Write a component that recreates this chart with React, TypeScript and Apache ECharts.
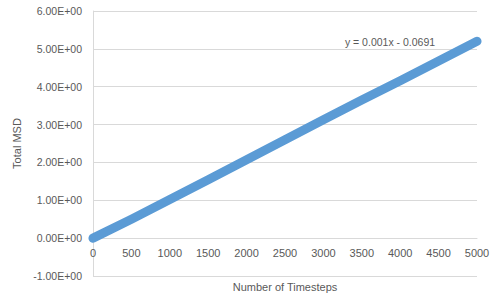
import React, { useEffect, useRef } from "react";
import * as echarts from "echarts";

const timesteps = [0, 500, 1000, 1500, 2000, 2500, 3000, 3500, 4000, 4500, 5000];
const totalMSD = [0, 0.5, 1.02, 1.54, 2.07, 2.6, 3.13, 3.65, 4.16, 4.68, 5.2];
const trendLabel = "y = 0.001x - 0.0691";
const xTitle = "Number of Timesteps";
const yTitle = "Total MSD";

const FONT = "Liberation Sans";
const TXT = "#595959";

function sci(v: number): string {
  const s = v.toExponential(2).toUpperCase(); // e.g. 6.00E+0
  const m = s.match(/^(-?[\d.]+)E([+-])(\d+)$/);
  if (!m) return s;
  return `${m[1]}E${m[2]}${m[3].padStart(2, "0")}`;
}

export default function App() {
  const ref = useRef<HTMLDivElement>(null);
  useEffect(() => {
    if (!ref.current) return;
    const chart = echarts.init(ref.current, undefined, { renderer: "svg" });
    const plotH = 302 - 11 - 26;
    const zeroOffset = -plotH / 7; // shift x axis up to y = 0 line
    chart.setOption({
      animation: false,
      backgroundColor: "#ffffff",
      grid: { left: 93, right: 19, top: 11, bottom: 26, containLabel: false, outerBoundsMode: "none" },
      xAxis: {
        type: "value",
        min: 0,
        max: 5000,
        interval: 500,
        offset: zeroOffset,
        name: xTitle,
        nameLocation: "middle",
        nameGap: 43,
        nameTextStyle: { color: TXT, fontFamily: FONT, fontSize: 11 },
        axisLine: { show: true, onZero: false, lineStyle: { color: "#d9d9d9" } },
        axisTick: { show: false },
        splitLine: { show: false },
        axisLabel: { color: TXT, fontFamily: FONT, fontSize: 11, margin: 9, formatter: (v: number) => String(v) },
      },
      yAxis: {
        type: "value",
        min: -1,
        max: 6,
        interval: 1,
        name: yTitle,
        nameLocation: "middle",
        nameGap: 58,
        nameTextStyle: { color: TXT, fontFamily: FONT, fontSize: 11 },
        axisLine: { show: true, onZero: false, lineStyle: { color: "#d9d9d9" } },
        axisTick: { show: false },
        splitLine: { show: true, lineStyle: { color: "#d9d9d9" } },
        axisLabel: { color: TXT, fontFamily: FONT, fontSize: 10.5, margin: 11, formatter: (v: number) => sci(v) },
      },
      series: [
        {
          type: "line",
          data: timesteps.map((t, i) => [t, totalMSD[i]]),
          showSymbol: false,
          lineStyle: { color: "#5b9bd5", width: 9, cap: "round", join: "round" },
        },
      ],
      graphic: [
        {
          type: "text",
          x: 390,
          y: 42,
          style: {
            text: trendLabel,
            fill: TXT,
            font: `10.5px "${FONT}"`,
            align: "center",
            verticalAlign: "middle",
          },
        },
      ],
    });
    return () => chart.dispose();
  }, []);
  return <div ref={ref} style={{ width: 496, height: 302, position: "absolute", left: 0, top: 0 }} />;
}
